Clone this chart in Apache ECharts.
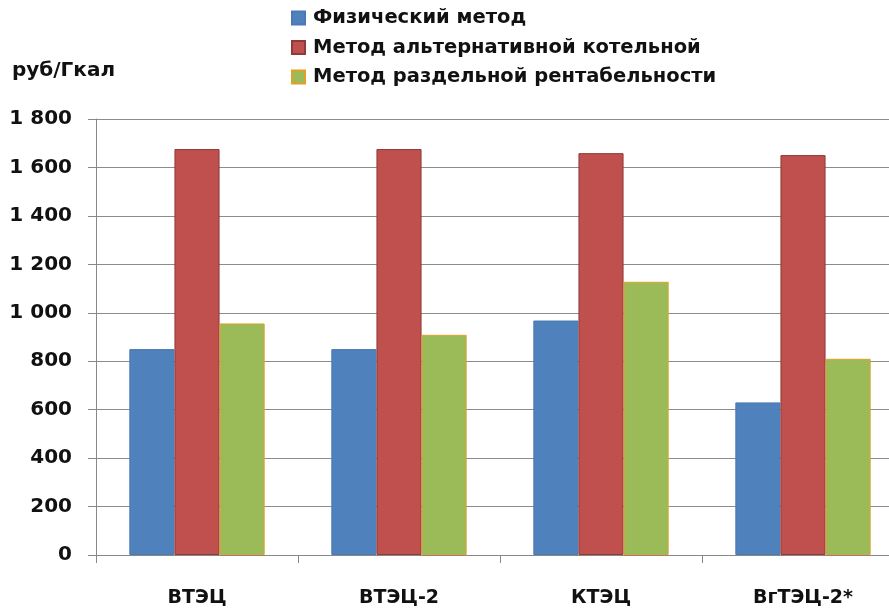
<!DOCTYPE html>
<html>
<head>
<meta charset="utf-8">
<script src="https://cdn.jsdelivr.net/npm/echarts@6/dist/echarts.min.js"></script>
<style>
  html, body { margin: 0; padding: 0; background: #fff; }
  #chart { width: 889px; height: 609px; }
</style>
</head>
<body>
<div id="chart"></div>
<script>
const categories = ['ВТЭЦ', 'ВТЭЦ-2', 'КТЭЦ', 'ВгТЭЦ-2*']
const seriesNames = ['Физический метод', 'Метод альтернативной котельной', 'Метод раздельной рентабельности']
const physical = [850, 850, 968, 630]
const boiler = [1676, 1676, 1659, 1651]
const separate = [956, 909, 1128, 810]

const colors = ['#4f81bd', '#c0504d', '#9bbb59']
const borders = ['#4a7ab3', '#8e3a38', '#e0a12a']
const font = '"DejaVu Sans", sans-serif'

const chart = echarts.init(document.getElementById('chart'))

function bar(name, data, i) {
  return {
    name: name,
    type: 'bar',
    data: data,
    barGap: 0,
    barCategoryGap: '33%',
    itemStyle: { color: colors[i], borderColor: borders[i], borderWidth: 1 }
  }
}

chart.setOption({
  animation: false,
  textStyle: { fontFamily: font },
  graphic: [{
    type: 'text',
    left: 12,
    top: 61,
    style: { text: 'руб/Гкал', font: 'bold 20px ' + font, fill: '#111' }
  }],
  legend: {
    orient: 'vertical',
    left: 291,
    top: 8,
    padding: 0,
    itemGap: 9.5,
    itemWidth: 13,
    itemHeight: 13,
    icon: 'rect',
    textStyle: { fontSize: 19.5, fontWeight: 'bold', lineHeight: 20, color: '#111', fontFamily: font, padding: [0, 0, 0, 3] },
    data: seriesNames
  },
  grid: { left: 96, top: 119, width: 808, height: 436, outerBoundsMode: 'none' },
  xAxis: {
    type: 'category',
    data: categories,
    axisLine: { lineStyle: { color: '#888', width: 1 } },
    axisTick: { show: true, length: 8, lineStyle: { color: '#888' } },
    axisLabel: { fontSize: 19, fontWeight: 'bold', color: '#111', margin: 34, fontFamily: font }
  },
  yAxis: {
    type: 'value',
    min: 0,
    max: 1800,
    interval: 200,
    axisLine: { show: true, lineStyle: { color: '#888' } },
    axisTick: { show: true, length: 8, lineStyle: { color: '#888' } },
    splitLine: { lineStyle: { color: '#8c8c8c', width: 1 } },
    axisLabel: {
      fontSize: 20,
      fontWeight: 'bold',
      color: '#111',
      margin: 24,
      fontFamily: font,
      formatter: function (v) { return v >= 1000 ? Math.floor(v / 1000) + ' ' + String(v % 1000).padStart(3, '0') : String(v) }
    }
  },
  series: [
    bar(seriesNames[0], physical, 0),
    bar(seriesNames[1], boiler, 1),
    bar(seriesNames[2], separate, 2)
  ]
})
</script>
</body>
</html>
